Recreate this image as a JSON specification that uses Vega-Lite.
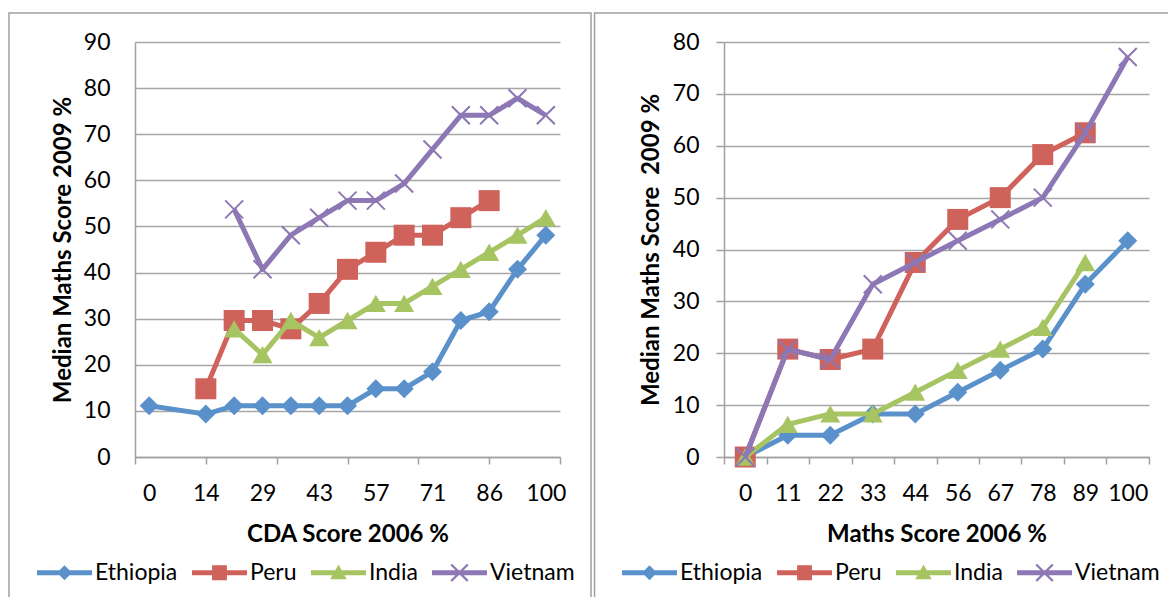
{
  "$schema": "https://vega.github.io/schema/vega-lite/v6.json",
  "background": "white",
  "padding": {"left": 8, "top": 12, "right": 0, "bottom": 0},
  "autosize": {"type": "pad"},
  "datasets": {
    "left": [
      {"country": "Ethiopia", "x": 0, "y": 11.1},
      {"country": "Ethiopia", "x": 14.2857, "y": 9.3},
      {"country": "Ethiopia", "x": 21.4286, "y": 11.1},
      {"country": "Ethiopia", "x": 28.5714, "y": 11.1},
      {"country": "Ethiopia", "x": 35.7143, "y": 11.1},
      {"country": "Ethiopia", "x": 42.8571, "y": 11.1},
      {"country": "Ethiopia", "x": 50, "y": 11.1},
      {"country": "Ethiopia", "x": 57.1429, "y": 14.8},
      {"country": "Ethiopia", "x": 64.2857, "y": 14.8},
      {"country": "Ethiopia", "x": 71.4286, "y": 18.5},
      {"country": "Ethiopia", "x": 78.5714, "y": 29.6},
      {"country": "Ethiopia", "x": 85.7143, "y": 31.5},
      {"country": "Ethiopia", "x": 92.8571, "y": 40.7},
      {"country": "Ethiopia", "x": 100, "y": 48.1},
      {"country": "Peru", "x": 14.2857, "y": 14.8},
      {"country": "Peru", "x": 21.4286, "y": 29.6},
      {"country": "Peru", "x": 28.5714, "y": 29.6},
      {"country": "Peru", "x": 35.7143, "y": 27.8},
      {"country": "Peru", "x": 42.8571, "y": 33.3},
      {"country": "Peru", "x": 50, "y": 40.7},
      {"country": "Peru", "x": 57.1429, "y": 44.4},
      {"country": "Peru", "x": 64.2857, "y": 48.1},
      {"country": "Peru", "x": 71.4286, "y": 48.1},
      {"country": "Peru", "x": 78.5714, "y": 51.9},
      {"country": "Peru", "x": 85.7143, "y": 55.6},
      {"country": "India", "x": 21.4286, "y": 27.8},
      {"country": "India", "x": 28.5714, "y": 22.2},
      {"country": "India", "x": 35.7143, "y": 29.6},
      {"country": "India", "x": 42.8571, "y": 25.9},
      {"country": "India", "x": 50, "y": 29.6},
      {"country": "India", "x": 57.1429, "y": 33.3},
      {"country": "India", "x": 64.2857, "y": 33.3},
      {"country": "India", "x": 71.4286, "y": 37.0},
      {"country": "India", "x": 78.5714, "y": 40.7},
      {"country": "India", "x": 85.7143, "y": 44.4},
      {"country": "India", "x": 92.8571, "y": 48.1},
      {"country": "India", "x": 100, "y": 51.9},
      {"country": "Vietnam", "x": 21.4286, "y": 53.7},
      {"country": "Vietnam", "x": 28.5714, "y": 40.7},
      {"country": "Vietnam", "x": 35.7143, "y": 48.1},
      {"country": "Vietnam", "x": 42.8571, "y": 51.9},
      {"country": "Vietnam", "x": 50, "y": 55.6},
      {"country": "Vietnam", "x": 57.1429, "y": 55.6},
      {"country": "Vietnam", "x": 64.2857, "y": 59.3},
      {"country": "Vietnam", "x": 71.4286, "y": 66.7},
      {"country": "Vietnam", "x": 78.5714, "y": 74.1},
      {"country": "Vietnam", "x": 85.7143, "y": 74.1},
      {"country": "Vietnam", "x": 92.8571, "y": 77.8},
      {"country": "Vietnam", "x": 100, "y": 74.1}
    ],
    "right": [
      {"country": "Ethiopia", "x": 0, "y": 0},
      {"country": "Ethiopia", "x": 11.1111, "y": 4.2},
      {"country": "Ethiopia", "x": 22.2222, "y": 4.2},
      {"country": "Ethiopia", "x": 33.3333, "y": 8.3},
      {"country": "Ethiopia", "x": 44.4444, "y": 8.3},
      {"country": "Ethiopia", "x": 55.5556, "y": 12.5},
      {"country": "Ethiopia", "x": 66.6667, "y": 16.7},
      {"country": "Ethiopia", "x": 77.7778, "y": 20.8},
      {"country": "Ethiopia", "x": 88.8889, "y": 33.3},
      {"country": "Ethiopia", "x": 100, "y": 41.7},
      {"country": "Peru", "x": 0, "y": 0},
      {"country": "Peru", "x": 11.1111, "y": 20.8},
      {"country": "Peru", "x": 22.2222, "y": 18.8},
      {"country": "Peru", "x": 33.3333, "y": 20.8},
      {"country": "Peru", "x": 44.4444, "y": 37.5},
      {"country": "Peru", "x": 55.5556, "y": 45.8},
      {"country": "Peru", "x": 66.6667, "y": 50},
      {"country": "Peru", "x": 77.7778, "y": 58.3},
      {"country": "Peru", "x": 88.8889, "y": 62.5},
      {"country": "India", "x": 0, "y": 0},
      {"country": "India", "x": 11.1111, "y": 6.3},
      {"country": "India", "x": 22.2222, "y": 8.3},
      {"country": "India", "x": 33.3333, "y": 8.3},
      {"country": "India", "x": 44.4444, "y": 12.5},
      {"country": "India", "x": 55.5556, "y": 16.7},
      {"country": "India", "x": 66.6667, "y": 20.8},
      {"country": "India", "x": 77.7778, "y": 25},
      {"country": "India", "x": 88.8889, "y": 37.5},
      {"country": "Vietnam", "x": 0, "y": 0},
      {"country": "Vietnam", "x": 11.1111, "y": 20.8},
      {"country": "Vietnam", "x": 22.2222, "y": 18.8},
      {"country": "Vietnam", "x": 33.3333, "y": 33.3},
      {"country": "Vietnam", "x": 44.4444, "y": 37.5},
      {"country": "Vietnam", "x": 55.5556, "y": 41.7},
      {"country": "Vietnam", "x": 66.6667, "y": 45.8},
      {"country": "Vietnam", "x": 77.7778, "y": 50},
      {"country": "Vietnam", "x": 88.8889, "y": 62.5},
      {"country": "Vietnam", "x": 100, "y": 77.1}
    ]
  },
  "config": {
    "font": "Lato",
    "view": {"stroke": null},
    "concat": {"spacing": 1},
    "axis": {
      "labelFont": "Lato", "labelFontSize": 23, "labelColor": "#000000",
      "titleFont": "Lato", "titleFontSize": 24, "titleFontWeight": "bold", "titleColor": "#000000",
      "domainColor": "#A0A0A0", "domainWidth": 1.5,
      "tickColor": "#A0A0A0", "tickWidth": 1.5,
      "gridColor": "#A6A6A6", "gridWidth": 1.5
    },
    "legend": {
      "labelFont": "Lato", "labelFontSize": 23, "labelColor": "#000000"
    }
  },
  "resolve": {"scale": {"color": "independent"}, "legend": {"color": "independent"}},
  "hconcat": [
    {
      "width": 425, "height": 415,
      "data": {"name": "left"},
      "resolve": {"axis": {"x": "independent"}},
      "layer": [
        {
          "transform": [{"aggregate": [{"op": "count", "as": "n"}]}],
          "mark": {"type": "rect", "fill": null, "stroke": "#A0A0A0", "strokeWidth": 1.5, "clip": false},
          "encoding": {
            "x": {"datum": -35.34, "type": "quantitative", "axis": null, "scale": {"domain": [-3.5714, 103.5714], "nice": false, "zero": false}},
            "x2": {"datum": 111.39},
            "y": {"datum": 96.29, "type": "quantitative", "scale": {"domain": [0, 90], "nice": false}},
            "y2": {"datum": -40}
          }
        },
        {
          "encoding": {
            "x": {"field": "x", "type": "quantitative",
              "scale": {"domain": [-3.5714, 103.5714], "nice": false, "zero": false},
              "axis": {"values": [0, 14.2857, 28.5714, 42.8571, 57.1429, 71.4286, 85.7143, 100], "format": ".0f", "ticks": false, "tickSize": 0, "labelPadding": 25, "grid": false, "title": "CDA Score 2006 %", "titlePadding": 17, "orient": "bottom", "labelFlush": false, "labelOverlap": false}},
            "y": {"field": "y", "type": "quantitative",
              "scale": {"domain": [0, 90], "nice": false},
              "axis": {"values": [0, 10, 20, 30, 40, 50, 60, 70, 80, 90], "ticks": false, "tickSize": 0, "labelPadding": 25, "title": "Median Maths Score 2009 %", "titlePadding": 8, "grid": true}},
            "color": {"field": "country", "type": "nominal",
              "scale": {"domain": ["Ethiopia", "Peru", "India", "Vietnam"], "range": ["#5A91CB", "#CF625B", "#A7C463", "#8D77B4"]},
              "legend": {"orient": "none", "legendX": -98, "legendY": 503, "direction": "horizontal", "title": null, "symbolSize": 3025, "labelOffset": 3, "columnPadding": 14, "padding": 0, "labelLimit": 300,
                "encode": {"symbols": {"update": {
                  "shape": {"signal": "datum.value==='Ethiopia'?'M-1,-0.09H1V0.09H-1Z M0,-0.27L0.27,0L0,0.27L-0.27,0Z':datum.value==='Peru'?'M-1,-0.09H1V0.09H-1Z M-0.27,-0.27H0.27V0.27H-0.27Z':datum.value==='India'?'M-1,-0.09H1V0.09H-1Z M0,-0.3L0.3,0.24L-0.3,0.24Z':'M-1,-0.09H1V0.09H-1Z M-0.27,-0.33L0.33,0.27L0.27,0.33L-0.33,-0.27Z M-0.33,0.27L0.27,-0.33L0.33,-0.27L-0.27,0.33Z'"},
                  "fill": {"signal": "datum.value==='Ethiopia'?'#5A91CB':datum.value==='Peru'?'#CF625B':datum.value==='India'?'#A7C463':'#8D77B4'"},
                  "stroke": {"value": "transparent"},
                  "strokeWidth": {"value": 0},
                  "opacity": {"value": 1}
                }}}}
            }
          },
          "layer": [
            {"transform": [{"filter": "datum.country === 'Ethiopia'"}], "mark": {"type": "line", "strokeWidth": 5, "strokeJoin": "round"}},
            {"transform": [{"filter": "datum.country === 'Ethiopia'"}], "mark": {"type": "point", "shape": "diamond", "filled": true, "size": 361, "opacity": 1}},
            {"transform": [{"filter": "datum.country === 'Peru'"}], "mark": {"type": "line", "strokeWidth": 5, "strokeJoin": "round"}},
            {"transform": [{"filter": "datum.country === 'Peru'"}], "mark": {"type": "point", "shape": "square", "filled": true, "size": 441, "opacity": 1}},
            {"transform": [{"filter": "datum.country === 'India'"}], "mark": {"type": "line", "strokeWidth": 5, "strokeJoin": "round"}},
            {"transform": [{"filter": "datum.country === 'India'"}], "mark": {"type": "point", "shape": "triangle-up", "filled": true, "size": 400, "opacity": 1}},
            {"transform": [{"filter": "datum.country === 'Vietnam'"}], "mark": {"type": "line", "strokeWidth": 5, "strokeJoin": "round"}},
            {"transform": [{"filter": "datum.country === 'Vietnam'"}], "mark": {"type": "point", "shape": "M-1,-1L1,1M1,-1L-1,1", "filled": false, "size": 324, "strokeWidth": 2, "opacity": 1}}
          ]
        },
        {
          "mark": {"type": "point", "opacity": 0},
          "encoding": {
            "x": {"field": "x", "type": "quantitative",
              "scale": {"domain": [-3.5714, 103.5714], "nice": false, "zero": false},
              "axis": {"values": [-3.5714, 14.2857, 32.1429, 50, 67.8571, 85.7143, 103.5714], "labels": false, "domain": false, "ticks": true, "tickSize": 7, "grid": false, "title": null, "orient": "bottom"}}
          }
        }
      ]
    },
    {
      "width": 425, "height": 415,
      "data": {"name": "right"},
      "resolve": {"axis": {"x": "independent"}},
      "layer": [
        {
          "transform": [{"aggregate": [{"op": "count", "as": "n"}]}],
          "mark": {"type": "rect", "fill": null, "stroke": "#A0A0A0", "strokeWidth": 1.5, "clip": false},
          "encoding": {
            "x": {"datum": -39.4, "type": "quantitative", "axis": null, "scale": {"domain": [-5.5556, 105.5556], "nice": false, "zero": false}},
            "x2": {"datum": 125},
            "y": {"datum": 85.59, "type": "quantitative", "scale": {"domain": [0, 80], "nice": false}},
            "y2": {"datum": -35}
          }
        },
        {
          "encoding": {
            "x": {"field": "x", "type": "quantitative",
              "scale": {"domain": [-5.5556, 105.5556], "nice": false, "zero": false},
              "axis": {"values": [0, 11.1111, 22.2222, 33.3333, 44.4444, 55.5556, 66.6667, 77.7778, 88.8889, 100], "format": ".0f", "ticks": false, "tickSize": 0, "labelPadding": 25, "grid": false, "title": "Maths Score 2006 %", "titlePadding": 17, "orient": "bottom", "labelFlush": false, "labelOverlap": false}},
            "y": {"field": "y", "type": "quantitative",
              "scale": {"domain": [0, 80], "nice": false},
              "axis": {"values": [0, 10, 20, 30, 40, 50, 60, 70, 80], "ticks": true, "tickSize": 8, "labelPadding": 17, "title": "Median Maths Score \u00a02009 %", "titlePadding": 9, "grid": true}},
            "color": {"field": "country", "type": "nominal",
              "scale": {"domain": ["Ethiopia", "Peru", "India", "Vietnam"], "range": ["#5A91CB", "#CF625B", "#A7C463", "#8D77B4"]},
              "legend": {"orient": "none", "legendX": -102, "legendY": 503, "direction": "horizontal", "title": null, "symbolSize": 3025, "labelOffset": 3, "columnPadding": 14, "padding": 0, "labelLimit": 300,
                "encode": {"symbols": {"update": {
                  "shape": {"signal": "datum.value==='Ethiopia'?'M-1,-0.09H1V0.09H-1Z M0,-0.27L0.27,0L0,0.27L-0.27,0Z':datum.value==='Peru'?'M-1,-0.09H1V0.09H-1Z M-0.27,-0.27H0.27V0.27H-0.27Z':datum.value==='India'?'M-1,-0.09H1V0.09H-1Z M0,-0.3L0.3,0.24L-0.3,0.24Z':'M-1,-0.09H1V0.09H-1Z M-0.27,-0.33L0.33,0.27L0.27,0.33L-0.33,-0.27Z M-0.33,0.27L0.27,-0.33L0.33,-0.27L-0.27,0.33Z'"},
                  "fill": {"signal": "datum.value==='Ethiopia'?'#5A91CB':datum.value==='Peru'?'#CF625B':datum.value==='India'?'#A7C463':'#8D77B4'"},
                  "stroke": {"value": "transparent"},
                  "strokeWidth": {"value": 0},
                  "opacity": {"value": 1}
                }}}}
            }
          },
          "layer": [
            {"transform": [{"filter": "datum.country === 'Ethiopia'"}], "mark": {"type": "line", "strokeWidth": 5, "strokeJoin": "round"}},
            {"transform": [{"filter": "datum.country === 'Ethiopia'"}], "mark": {"type": "point", "shape": "diamond", "filled": true, "size": 361, "opacity": 1}},
            {"transform": [{"filter": "datum.country === 'Peru'"}], "mark": {"type": "line", "strokeWidth": 5, "strokeJoin": "round"}},
            {"transform": [{"filter": "datum.country === 'Peru'"}], "mark": {"type": "point", "shape": "square", "filled": true, "size": 441, "opacity": 1}},
            {"transform": [{"filter": "datum.country === 'India'"}], "mark": {"type": "line", "strokeWidth": 5, "strokeJoin": "round"}},
            {"transform": [{"filter": "datum.country === 'India'"}], "mark": {"type": "point", "shape": "triangle-up", "filled": true, "size": 400, "opacity": 1}},
            {"transform": [{"filter": "datum.country === 'Vietnam'"}], "mark": {"type": "line", "strokeWidth": 5, "strokeJoin": "round"}},
            {"transform": [{"filter": "datum.country === 'Vietnam'"}], "mark": {"type": "point", "shape": "M-1,-1L1,1M1,-1L-1,1", "filled": false, "size": 324, "strokeWidth": 2, "opacity": 1}}
          ]
        },
        {
          "mark": {"type": "point", "opacity": 0},
          "encoding": {
            "x": {"field": "x", "type": "quantitative",
              "scale": {"domain": [-5.5556, 105.5556], "nice": false, "zero": false},
              "axis": {"values": [-5.5556, 5.5556, 16.6667, 27.7778, 38.8889, 50, 61.1111, 72.2222, 83.3333, 94.4444, 105.5556], "labels": false, "domain": false, "ticks": true, "tickSize": 7, "grid": false, "title": null, "orient": "bottom"}}
          }
        }
      ]
    }
  ]
}
